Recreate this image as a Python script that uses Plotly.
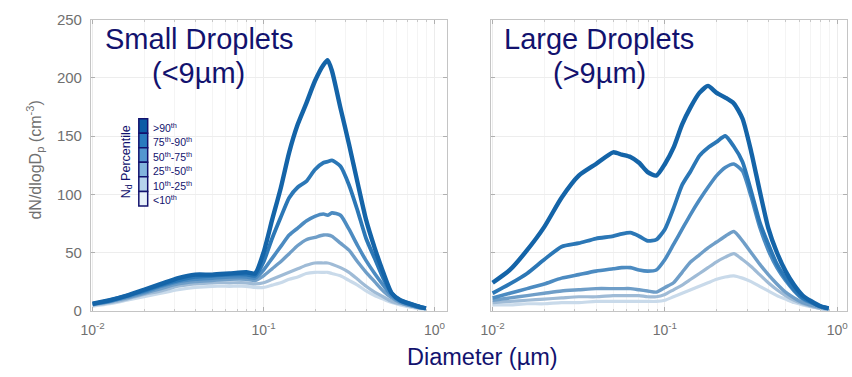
import plotly.graph_objects as go

# ---- data -------------------------------------------------------------
# log10 of particle diameter (µm) for each panel
small_logd = [-2.0, -1.9, -1.8, -1.7, -1.6, -1.5, -1.4, -1.3, -1.2, -1.1, -1.05,
              -1.0, -0.95, -0.9, -0.85, -0.8, -0.75, -0.7, -0.65, -0.625, -0.6,
              -0.55, -0.5, -0.45, -0.4, -0.35, -0.3, -0.25, -0.2, -0.1, -0.05]
large_logd = [-2.0, -1.9, -1.8, -1.7, -1.6, -1.5, -1.4, -1.3, -1.25, -1.2, -1.15,
              -1.1, -1.05, -1.0, -0.95, -0.9, -0.85, -0.8, -0.75, -0.7, -0.65,
              -0.6, -0.55, -0.5, -0.45, -0.4, -0.35, -0.3, -0.25, -0.2, -0.1, -0.05]

percentile_labels = [">90<sup>th</sup>", "75<sup>th</sup>-90<sup>th</sup>",
                     "50<sup>th</sup>-75<sup>th</sup>", "25<sup>th</sup>-50<sup>th</sup>",
                     "10<sup>th</sup>-25<sup>th</sup>", "&lt;10<sup>th</sup>"]

# dN/dlogDp (cm^-3), small droplets (<9 µm), ordered >90th ... <10th
small_p90 = [6, 9, 13, 18, 23, 28, 31, 31, 32, 33, 32, 50, 78, 105, 136, 160, 178,
             197, 211, 215, 206, 174, 143, 110, 78, 54, 33, 15, 9, 4, 2]
small_p75 = [6, 9, 13, 17, 22, 26, 29, 30, 31, 31, 30, 42, 62, 80, 97, 106, 111,
             121, 127, 128, 129, 124, 108, 86, 62, 45, 28, 15, 9, 4, 2]
small_p50 = [6, 8, 12, 16, 21, 25, 27, 28, 29, 29, 28, 35, 45, 55, 65, 71, 77,
             81, 83, 82, 84, 82, 70, 56, 43, 32, 22, 13, 8, 3, 2]
small_p25 = [5, 8, 11, 15, 19, 23, 25, 26, 27, 27, 26, 30, 36, 42, 49, 56, 61,
             63, 65, 65, 64, 58, 52, 42, 33, 25, 17, 11, 7, 3, 2]
small_p10 = [5, 7, 10, 14, 17, 21, 23, 24, 24, 24, 23, 24, 27, 30, 33, 36, 39,
             41, 41, 41, 40, 37, 33, 27, 21, 16, 12, 8, 6, 3, 1.5]
small_p0 = [4, 6, 9, 12, 15, 18, 20, 21, 21, 21, 20, 20, 22, 24, 27, 29, 32,
            33, 33, 33, 32, 30, 26, 22, 17, 13, 10, 7, 5, 2, 1]

# dN/dlogDp (cm^-3), large droplets (>9 µm)
large_p90 = [24, 35, 52, 72, 97, 116, 126, 136, 134, 132, 127, 119, 116, 126, 140,
             160, 175, 187, 193, 187, 183, 178, 165, 137, 103, 71, 50, 34, 22, 13, 4, 2]
large_p75 = [15, 23, 32, 44, 55, 58, 62, 64, 66, 67, 64, 60, 61, 70, 88, 108, 120,
             133, 140, 145, 150, 141, 128, 103, 76, 57, 40, 28, 18, 11, 4, 2]
large_p50 = [11, 15, 19, 23, 28, 31, 34, 36, 37, 37, 35, 34, 35, 44, 57, 70, 83,
             95, 106, 116, 123, 126, 120, 98, 72, 52, 37, 26, 17, 10, 4, 2]
large_p25 = [9, 11, 13, 15, 17, 18, 19, 19, 19, 19, 18, 17, 16, 20, 24, 33, 42,
             48, 54, 59, 64, 68, 60, 50, 40, 31, 23, 16, 11, 7, 3, 1.5]
large_p10 = [7, 8, 9, 10, 11, 12, 12, 13, 13, 13, 13, 12, 12, 14, 18, 22, 27,
             32, 37, 42, 46, 49, 44, 38, 31, 24, 18, 13, 9, 6, 2, 1]
large_p0 = [5, 5, 6, 6, 7, 7, 8, 8, 8, 8, 8, 8, 8, 9, 12, 15, 18, 21, 24, 27,
            29, 30, 28, 25, 21, 17, 13, 10, 7, 5, 2, 1]

x_tick_vals = [0.01, 0.1, 1]
x_tick_text = ["10<sup>-2</sup>", "10<sup>-1</sup>", "10<sup>0</sup>"]
y_tick_vals = [0, 50, 100, 150, 200, 250]

# ---- styling ----------------------------------------------------------
W, H = 852, 377
NAVY = "#12126e"
GREY = "#707070"
FONT = "Liberation Sans, Arial, sans-serif"
line_colors = ["#1464a8", "#2b77b6", "#4c8bc1", "#6f9ec8", "#9fbbd6", "#c9daea"]
line_widths = [4.4, 3.8, 3.6, 3.4, 3.2, 3.2]
box_colors = ["#0b5ba6", "#2a7bbf", "#5497d0", "#82b4dd", "#b6d4ec", "#e6f0f9"]


def px(x):
    return x / W


def py(y):
    return 1 - y / H


fig = go.Figure()

small_sets = [small_p90, small_p75, small_p50, small_p25, small_p10, small_p0]
large_sets = [large_p90, large_p75, large_p50, large_p25, large_p10, large_p0]

# draw lightest first so the darkest curve sits on top
for i in reversed(range(6)):
    fig.add_trace(go.Scatter(
        x=[10 ** v for v in small_logd], y=small_sets[i], mode="lines",
        line=dict(color=line_colors[i], width=line_widths[i], shape="spline", smoothing=0.6),
        xaxis="x", yaxis="y", showlegend=False, hoverinfo="skip"))
    fig.add_trace(go.Scatter(
        x=[10 ** v for v in large_logd], y=large_sets[i], mode="lines",
        line=dict(color=line_colors[i], width=line_widths[i], shape="spline", smoothing=0.6),
        xaxis="x2", yaxis="y2", showlegend=False, hoverinfo="skip"))

xcommon = dict(
    type="log", showline=True, linecolor="#c4c4c4", linewidth=1, mirror="ticks",
    ticks="inside", ticklen=4, tickcolor="#b0b0b0",
    tickvals=x_tick_vals, ticktext=x_tick_text, ticklabelstandoff=6,
    tickfont=dict(family=FONT, size=14, color=GREY),
    showgrid=True, gridcolor="#ececec", zeroline=False,
    minor=dict(dtick="D1", ticks="inside", ticklen=2, tickcolor="#c8c8c8",
               showgrid=True, gridcolor="#f4f4f4"),
)
ycommon = dict(
    range=[0, 250], showline=True, linecolor="#c4c4c4", linewidth=1, mirror="ticks",
    ticks="inside", ticklen=4, tickcolor="#b0b0b0", tickvals=y_tick_vals,
    ticklabelstandoff=5,
    tickfont=dict(family=FONT, size=15, color=GREY),
    showgrid=True, gridcolor="#ededed", zeroline=False,
    domain=[py(316), py(11)],
)

fig.update_layout(
    width=W, height=H, margin=dict(l=0, r=0, t=0, b=0),
    paper_bgcolor="white", plot_bgcolor="white",
    font=dict(family=FONT),
    xaxis=dict(xcommon, domain=[px(82), px(443)], range=[-2.01, 0.075]),
    yaxis=dict(ycommon, anchor="x"),
    xaxis2=dict(xcommon, domain=[px(487), px(848)], range=[-2.011, 0.057], anchor="y2"),
    yaxis2=dict(ycommon, anchor="x2", showticklabels=False),
)

annotations = []


def add_text(text, x, y, size, color=NAVY, angle=0, xanchor="center"):
    annotations.append(dict(
        text=text, x=px(x), y=py(y), xref="paper", yref="paper",
        showarrow=False, textangle=angle, xanchor=xanchor, yanchor="middle",
        font=dict(family=FONT, size=size, color=color)))


# panel titles
add_text("Small Droplets", 192, 31, 29)
add_text("(&lt;9µm)", 191, 67, 29)
add_text("Large Droplets", 597, 31, 29)
add_text("(&gt;9µm)", 597, 67, 29)

# axis titles
add_text("Diameter (µm)", 479, 364, 23.5)
add_text("dN/dlogD<sub>p</sub> (cm<sup>-3</sup>)", 25, 158, 16, color=GREY, angle=-90)

# percentile key
add_text("N<sub>d</sub> Percentile", 118, 160, 12.5, angle=-90)
box_top, box_h = 115, 15.2
shapes = []
for i in range(6):
    y0 = box_top + i * box_h
    shapes.append(dict(
        type="rect", xref="paper", yref="paper",
        x0=px(130.5), x1=px(139.5), y0=py(y0 + box_h), y1=py(y0),
        fillcolor=box_colors[i], line=dict(color=NAVY, width=1.5)))
    add_text(percentile_labels[i], 142.5, y0 + box_h / 2 + 1, 10.5, xanchor="left")

fig.update_layout(annotations=annotations, shapes=shapes)

fig.write_html("out.html")
